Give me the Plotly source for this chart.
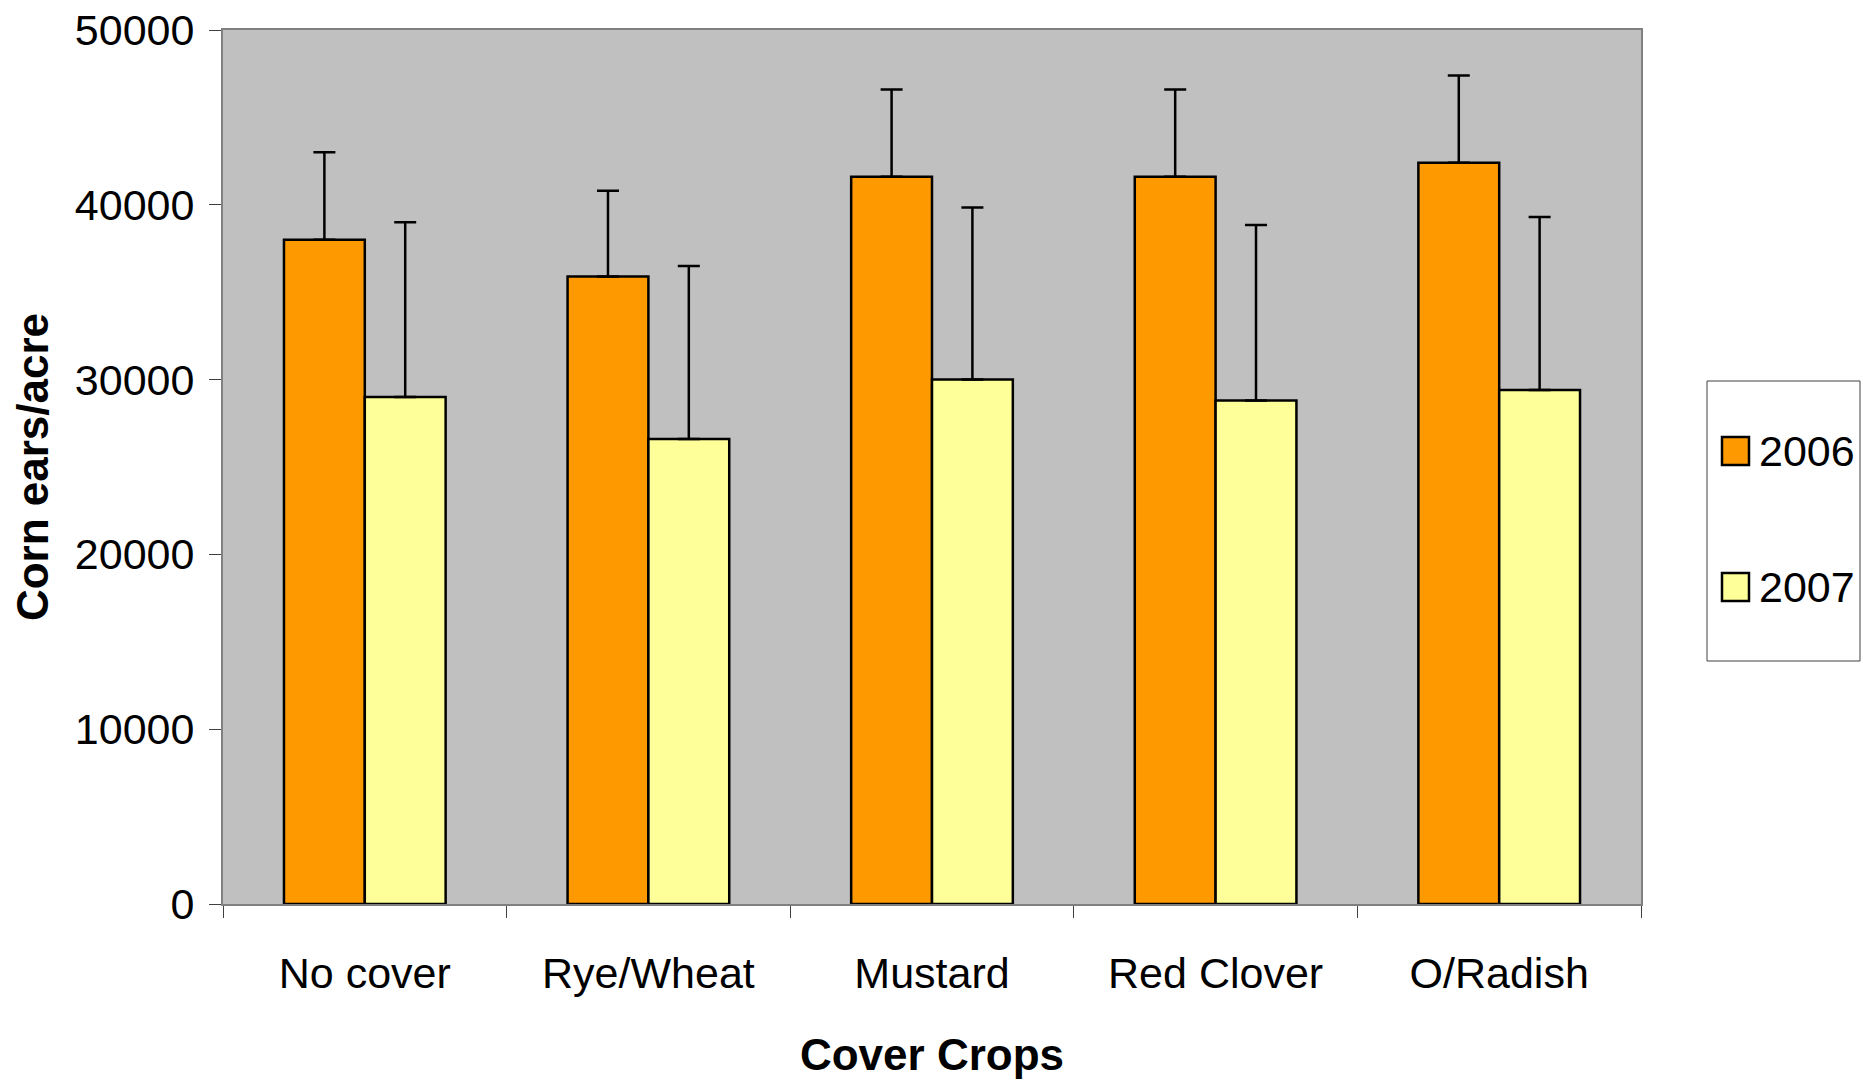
import plotly.graph_objects as go

categories = ["No cover", "Rye/Wheat", "Mustard", "Red Clover", "O/Radish"]
series_names = ["2006", "2007"]
values_2006 = [38000, 35900, 41600, 41600, 42400]
values_2007 = [29000, 26600, 30000, 28800, 29400]
err_2006 = [5000, 4900, 5000, 5000, 5000]
err_2007 = [10000, 9900, 9850, 10050, 9900]
colors = ["#FF9900", "#FFFF99"]
y_ticks = [0, 10000, 20000, 30000, 40000, 50000]

W, H = 1863, 1082
PL, PR, PT, PB = 223, 1641, 30, 904  # plot area in page pixels
FONT = "Arial, 'Liberation Sans', sans-serif"


def px(x):
    return (x - PL) / (PR - PL)


def py(y):
    return (PB - y) / (PB - PT)


fig = go.Figure()
for name, vals, errs, col in zip(series_names, [values_2006, values_2007], [err_2006, err_2007], colors):
    fig.add_trace(go.Bar(
        x=categories, y=vals, name=name,
        marker=dict(color=col, line=dict(color="black", width=2.5)),
        error_y=dict(type="data", array=errs, arrayminus=[0] * len(errs), symmetric=False,
                     color="black", thickness=2.5, width=11),
        showlegend=False,
    ))

# legend drawn manually (large swatches like the original)
lx0, ly0, lx1, ly1 = 1707, 381, 1860, 661
shapes = [dict(type="rect", xref="paper", yref="paper",
               x0=px(lx0), x1=px(lx1), y0=py(ly1), y1=py(ly0),
               line=dict(color="#404040", width=1), fillcolor="white", layer="above")]
annotations = []
centers = [451, 587]
for name, col, cy in zip(series_names, colors, centers):
    shapes.append(dict(type="rect", xref="paper", yref="paper",
                       x0=px(1722), x1=px(1749), y0=py(cy + 14), y1=py(cy - 14),
                       line=dict(color="black", width=2.5), fillcolor=col, layer="above"))
    annotations.append(dict(xref="paper", yref="paper", x=px(1757), y=py(cy),
                            text=name, showarrow=False, xanchor="left", yanchor="middle",
                            font=dict(family=FONT, size=43, color="black")))

fig.update_layout(
    width=W, height=H,
    margin=dict(l=PL, r=W - PR, t=PT, b=H - PB, autoexpand=False),
    paper_bgcolor="white", plot_bgcolor="#C0C0C0",
    barmode="group", bargap=0.43, bargroupgap=0,
    font=dict(family=FONT, size=43, color="black"),
    shapes=shapes, annotations=annotations,
    xaxis=dict(
        type="category", tickson="boundaries", ticks="outside", ticklen=12, tickwidth=1,
        tickcolor="#404040", showline=True, linecolor="#808080", linewidth=2, mirror=True,
        showgrid=False, ticklabelstandoff=30,
        tickfont=dict(family=FONT, size=43),
        title=dict(text="<b>Cover Crops</b>", font=dict(family=FONT, size=44), standoff=44),
    ),
    yaxis=dict(
        range=[0, 50000], tickvals=y_ticks, ticktext=[str(v) for v in y_ticks],
        ticks="outside", ticklen=12, tickwidth=1, tickcolor="#404040",
        showline=True, linecolor="#808080", linewidth=2, mirror=True,
        showgrid=False, zeroline=False, ticklabelstandoff=6, ticklabeloverflow="allow",
        tickfont=dict(family=FONT, size=43),
        title=dict(text="<b>Corn ears/acre</b>", font=dict(family=FONT, size=44), standoff=12),
    ),
)

fig.write_html("out.html", config={"displayModeBar": False},
               post_script="document.body.style.margin='0';document.body.style.overflow='hidden';")
